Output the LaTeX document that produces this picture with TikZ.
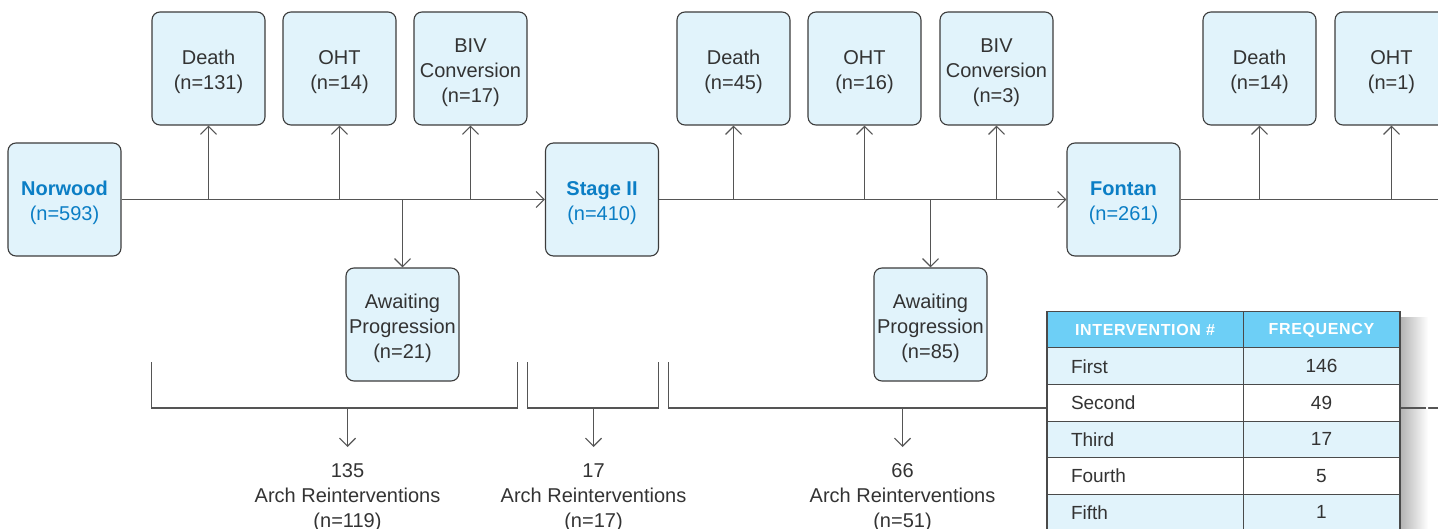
\documentclass[tikz,border=0pt]{standalone}
\usepackage{fontspec}
\setmainfont{Liberation Sans}
\usetikzlibrary{arrows.meta}
\definecolor{boxfill}{HTML}{E1F3FB}
\definecolor{boxdraw}{HTML}{3C3C3C}
\definecolor{linec}{HTML}{555555}
\definecolor{txt}{HTML}{333333}
\definecolor{titleblue}{HTML}{0B7EC5}
\definecolor{headfill}{HTML}{6DCFF6}
\definecolor{tline}{HTML}{4A4A4A}
\newcommand\fstrut{\rule{0pt}{21.5pt}}
\begin{document}
\begin{tikzpicture}[x=1pt,y=-1pt,
  box/.style={draw=boxdraw, line width=1.1pt, fill=boxfill, rounded corners=8pt,
    minimum width=113pt, minimum height=113pt, inner sep=0pt, align=center,
    text=txt, font=\fontsize{20}{25}\selectfont},
  mainbox/.style={box, text=titleblue},
  conn/.style={draw=linec, line width=1.2pt},
  arr/.style={conn, -{Straight Barb[length=8pt,width=16pt,line width=1.2pt]}},
  result/.style={align=center, text=txt, inner xsep=0pt, inner ysep=8.5pt,
    anchor=north, font=\fontsize{20}{25}\selectfont},
  cell/.style={draw=tline, line width=1pt, minimum height=36.5pt, inner sep=0pt,
    text=txt, font=\fontsize{19}{23}\selectfont},
  cellL/.style={cell, minimum width=196pt, text width=148pt, inner xsep=24pt, align=left},
  cellR/.style={cell, minimum width=157pt, align=center},
  headcell/.style={draw=tline, line width=1pt, fill=headfill, minimum height=36pt,
    inner sep=0pt, text=white,
    font=\fontsize{16}{20}\selectfont\bfseries\addfontfeatures{LetterSpace=4}}
]
\useasboundingbox (0,0) rectangle (1438,529);
\clip (0,0) rectangle (1438,529);

% main stage boxes
\node[mainbox] (norwood) at (64.5,199.5) {\fstrut\textbf{Norwood}\\(n=593)};
\node[mainbox] (stage) at (602,199.5) {\fstrut\textbf{Stage II}\\(n=410)};
\node[mainbox] (fontan) at (1123.5,199.5) {\fstrut\textbf{Fontan}\\(n=261)};

% outcome boxes
\node[box] (death1) at (208.5,68.5) {\fstrut Death\\(n=131)};
\node[box] (oht1) at (339.5,68.5) {\fstrut OHT\\(n=14)};
\node[box] (biv1) at (470.5,68.5) {\fstrut BIV\\Conversion\\(n=17)};
\node[box] (death2) at (733.5,68.5) {\fstrut Death\\(n=45)};
\node[box] (oht2) at (864.5,68.5) {\fstrut OHT\\(n=16)};
\node[box] (biv2) at (996.5,68.5) {\fstrut BIV\\Conversion\\(n=3)};
\node[box] (death3) at (1259.5,68.5) {\fstrut Death\\(n=14)};
\node[box] (oht3) at (1391.5,68.5) {\fstrut OHT\\(n=1)};
\node[box] (await1) at (402.5,324.5) {\fstrut Awaiting\\Progression\\(n=21)};
\node[box] (await2) at (930.5,324.5) {\fstrut Awaiting\\Progression\\(n=85)};

% main line
\coordinate (rightend) at (1450,199.5);
\draw[arr] (norwood.east) -- (stage.west);
\draw[arr] (stage.east) -- (fontan.west);
\draw[conn] (fontan.east) -- (rightend);

% up arrows
\foreach \b in {death1,oht1,biv1,death2,oht2,biv2,death3,oht3}
  \draw[arr] (\b.south |- norwood.east) -- (\b.south);
% down arrows
\foreach \b in {await1,await2}
  \draw[arr] (\b.north |- norwood.east) -- (\b.north);

% result texts
\node[result] (r1) at (347.5,447) {\fstrut 135\\Arch Reinterventions\\(n=119)};
\node[result] (r2) at (593.5,447) {\fstrut 17\\Arch Reinterventions\\(n=17)};
\node[result] (r3) at (902.5,447) {\fstrut 66\\Arch Reinterventions\\(n=51)};

% brackets
\coordinate (b1l) at (151.5,362); \coordinate (b1r) at (517.5,362); \coordinate (b1m) at (347.5,408);
\coordinate (b2l) at (527.5,362); \coordinate (b2r) at (658.5,362); \coordinate (b2m) at (593.5,408);
\coordinate (b3l) at (668.5,362); \coordinate (b3e) at (1450,408); \coordinate (b3m) at (902.5,408);
\draw[conn] (b1l) -- ++(0,46) -| (b1r);
\draw[conn] (b2l) -- ++(0,46) -| (b2r);
\draw[conn] (b3l) -- ++(0,46) -- (b3e);
\draw[arr] (b1m) -- (r1.north);
\draw[arr] (b2m) -- (r2.north);
\draw[arr] (b3m) -- (r3.north);

% table shadow
\shade[left color=black!30, right color=white] (1400,318) rectangle (1428,540);
\draw[linec, line width=1.2pt] (1400,408) -- (1426,408);

% table
\node[headcell, minimum width=196pt] (h1) at (1145,330) {INTERVENTION \#};
\node[headcell, minimum width=157pt] (h2) at (1321.5,330) {FREQUENCY};
\foreach \lab/\val/\fc [count=\i] in {First/146/boxfill, Second/49/white, Third/17/boxfill, Fourth/5/white, Fifth/1/boxfill}{
  \node[cellL, fill=\fc] (c\i a) at (1145,{348+36.5*(\i-1)+18.25}) {\lab};
  \node[cellR, fill=\fc] (c\i b) at (1321.5,{348+36.5*(\i-1)+18.25}) {\val};
}
\draw[tline, line width=1.4pt] (h1.north west) rectangle (1400,545);
\end{tikzpicture}
\end{document}
